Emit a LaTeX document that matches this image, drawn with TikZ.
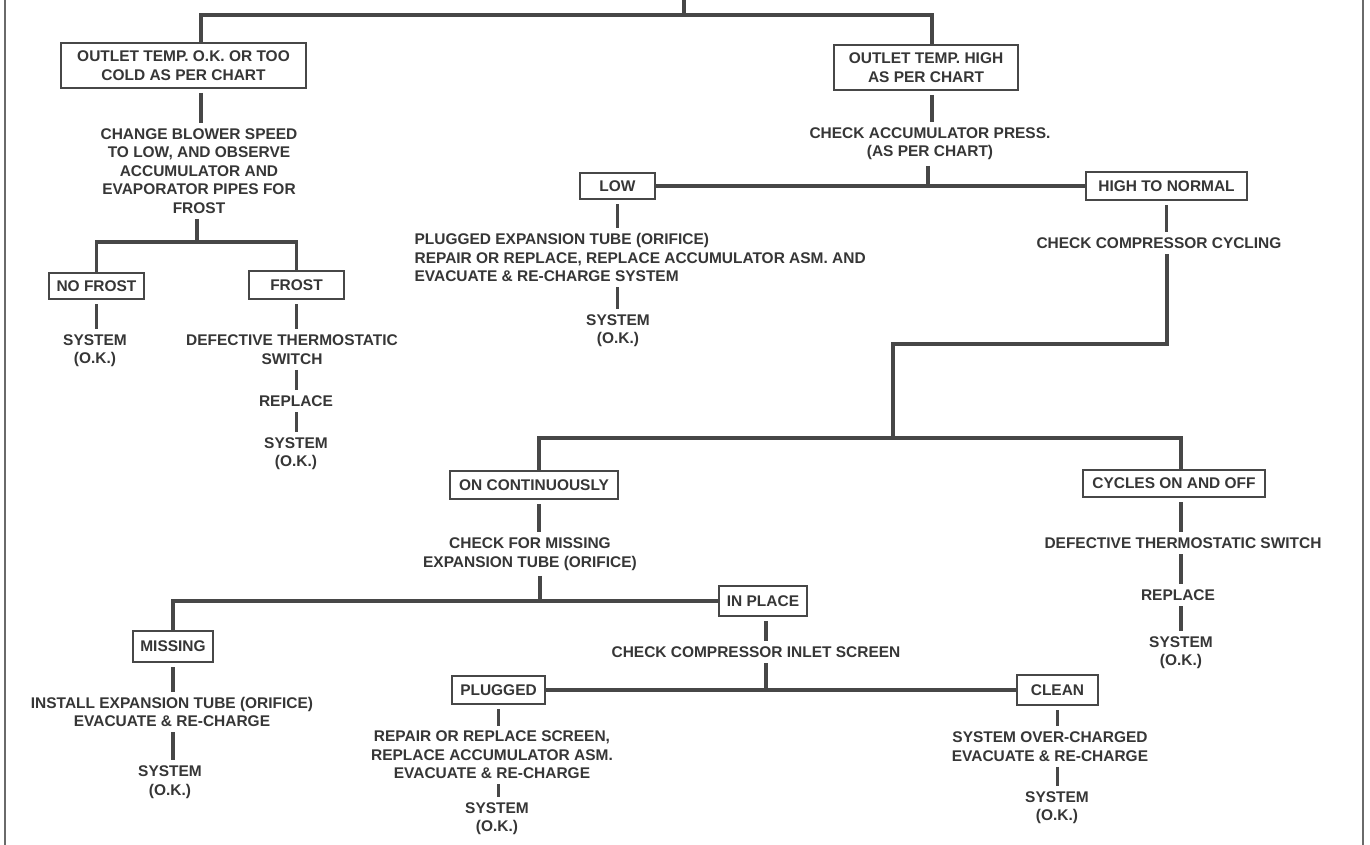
\documentclass[tikz,border=0pt]{standalone}
\usepackage{fontspec}
\setmainfont{Liberation Sans}
\usetikzlibrary{calc}
\definecolor{ink}{HTML}{363636}
\definecolor{ln}{HTML}{474747}
\definecolor{fr}{HTML}{6A6A6A}
\begin{document}
\begin{tikzpicture}[x=0.75pt,y=-0.75pt,
  lbl/.style={font=\fontsize{11.6}{13.8}\selectfont\bfseries, text=ink},
  box/.style={lbl, draw=ln, line width=1.5pt, inner sep=0pt, align=center},
  txt/.style={lbl, inner sep=4pt, align=center},
  conn/.style={draw=ln, line width=2.3pt},
  bconn/.style={conn, shorten <=3pt},
  frame/.style={draw=fr, line width=1.6pt}]
\fill[white] (0,0) rectangle (1370,845);
\useasboundingbox (0,0) rectangle (1370,845);
\draw[frame] (5,0) -- (5,845);
\draw[frame] (1363,0) -- (1363,845);

% boxes
\node[box, minimum width=183.75pt, minimum height=33.75pt] (b1) at (183.5,65.5) {OUTLET TEMP. O.K. OR TOO\\COLD AS PER CHART};
\node[box, minimum width=138pt, minimum height=33.75pt] (b2) at (926,67.5) {OUTLET TEMP. HIGH\\AS PER CHART};
\node[box, minimum width=56.25pt, minimum height=19.5pt] (low) at (617.5,186) {LOW};
\node[box, minimum width=120.75pt, minimum height=21pt] (htn) at (1166.5,186) {HIGH TO NORMAL};
\node[box, minimum width=71.25pt, minimum height=19.5pt] (nf) at (96.5,286) {NO FROST};
\node[box, minimum width=71.25pt, minimum height=21pt] (frost) at (296.5,285) {FROST};
\node[box, minimum width=126pt, minimum height=21pt] (oncont) at (534,485) {ON CONTINUOUSLY};
\node[box, minimum width=136.5pt, minimum height=20.25pt] (cycles) at (1174,483.5) {CYCLES ON AND OFF};
\node[box, minimum width=60pt, minimum height=23.25pt] (missing) at (173,646.5) {MISSING};
\node[box, minimum width=66pt, minimum height=22.5pt] (inplace) at (763,601) {IN PLACE};
\node[box, minimum width=69.75pt, minimum height=21pt] (plugged) at (498.5,690) {PLUGGED};
\node[box, minimum width=60.75pt, minimum height=22.5pt] (clean) at (1057.5,690) {CLEAN};

% texts
\node[txt] (t1) at (199,171) {CHANGE BLOWER SPEED\\TO LOW, AND OBSERVE\\ACCUMULATOR AND\\EVAPORATOR PIPES FOR\\FROST};
\node[txt] (t2) at (930,144) {CHECK ACCUMULATOR PRESS.\\(AS PER CHART)};
\node[lbl, inner sep=4pt, align=left, anchor=west] (t3) at (409,257.5) {PLUGGED EXPANSION TUBE (ORIFICE)\\REPAIR OR REPLACE, REPLACE ACCUMULATOR ASM. AND\\EVACUATE \& RE-CHARGE SYSTEM};
\node[txt] (t4) at (618,331) {SYSTEM\\(O.K.)};
\node[txt] (t5) at (95,351) {SYSTEM\\(O.K.)};
\node[txt] (t6) at (292,349.5) {DEFECTIVE THERMOSTATIC\\SWITCH};
\node[txt] (t7) at (296,401) {REPLACE};
\node[txt] (t8) at (296,454) {SYSTEM\\(O.K.)};
\node[txt] (t9) at (1159,243) {CHECK COMPRESSOR CYCLING};
\node[txt] (t10) at (530,554) {CHECK FOR MISSING\\EXPANSION TUBE (ORIFICE)};
\node[txt] (t11) at (1183,543) {DEFECTIVE THERMOSTATIC SWITCH};
\node[txt] (t12) at (1178,595) {REPLACE};
\node[txt] (t13) at (1181,652.5) {SYSTEM\\(O.K.)};
\node[txt] (t14) at (756,652) {CHECK COMPRESSOR INLET SCREEN};
\node[txt] (t15) at (172,712) {INSTALL EXPANSION TUBE (ORIFICE)\\EVACUATE \& RE-CHARGE};
\node[txt] (t16) at (170,782) {SYSTEM\\(O.K.)};
\node[txt] (t17) at (492,755) {REPAIR OR REPLACE SCREEN,\\REPLACE ACCUMULATOR ASM.\\EVACUATE \& RE-CHARGE};
\node[txt] (t18) at (497,818.5) {SYSTEM\\(O.K.)};
\node[txt] (t19) at (1050,746.5) {SYSTEM OVER-CHARGED\\EVACUATE \& RE-CHARGE};
\node[txt] (t20) at (1057,807.5) {SYSTEM\\(O.K.)};

% junction coordinates
\coordinate (s0) at (684,0);
\coordinate (s1) at (201,15);
\coordinate (s2) at (932,15);
\coordinate (h2) at (197,242);
\coordinate (h3) at (928,186);
\coordinate (h4) at (1167,344);
\coordinate (h5) at (893,438);
\coordinate (c5a) at (539,438);
\coordinate (c5b) at (1181,438);
\coordinate (h6) at (540,601);
\coordinate (h7) at (766,690);

% connectors
\draw[conn] (s0) -- (s0 |- s1);
\draw[conn] (b1.north -| s1) -- (s1) -- (s2) -- (b2.north -| s2);
\draw[bconn] (b1.south -| s1) -- (t1.north -| s1);
\draw[conn] (t1.south -| h2) -- (h2);
\draw[conn] (nf.north) -- (nf.north |- h2) -- (frost.north |- h2) -- (frost.north);
\draw[bconn] (nf.south) -- (nf.south |- t5.north);
\draw[bconn] (frost.south) -- (frost.south |- t6.north);
\draw[conn] (t6.south -| frost.south) -- (t7.north -| frost.south);
\draw[conn] (t7.south -| frost.south) -- (t8.north -| frost.south);

\draw[bconn] (b2.south -| s2) -- (t2.north -| s2);
\draw[conn] (t2.south -| h3) -- (h3);
\draw[conn] (low.east) -- (htn.west);
\draw[bconn] (low.south) -- (low.south |- t3.north);
\draw[conn] (t3.south -| low.south) -- (t4.north -| low.south);

\draw[bconn] (htn.south) -- (htn.south |- t9.north);
\draw[conn] (t9.south -| h4) -- (h4) -- (h4 -| h5) -- (h5);
\draw[conn] (oncont.north -| c5a) -- (c5a) -- (c5b) -- (cycles.north -| c5b);

\draw[bconn] (oncont.south -| c5a) -- (t10.north -| c5a);
\draw[conn] (t10.south -| h6) -- (h6);
\draw[conn] (missing.north) |- (inplace.west);
\draw[bconn] (missing.south) -- (missing.south |- t15.north);
\draw[conn] (t15.south -| missing.south) -- (t16.north -| missing.south);

\draw[bconn] (inplace.south -| h7) -- (t14.north -| h7);
\draw[conn] (t14.south -| h7) -- (h7);
\draw[conn] (plugged.east) -- (clean.west);
\draw[bconn] (plugged.south) -- (plugged.south |- t17.north);
\draw[conn] (t17.south -| plugged.south) -- (t18.north -| plugged.south);
\draw[bconn] (clean.south) -- (clean.south |- t19.north);
\draw[conn] (t19.south -| clean.south) -- (t20.north -| clean.south);

\draw[bconn] (cycles.south -| c5b) -- (t11.north -| c5b);
\draw[conn] (t11.south -| c5b) -- (t12.north -| c5b);
\draw[conn] (t12.south -| c5b) -- (t13.north -| c5b);
\end{tikzpicture}
\end{document}
